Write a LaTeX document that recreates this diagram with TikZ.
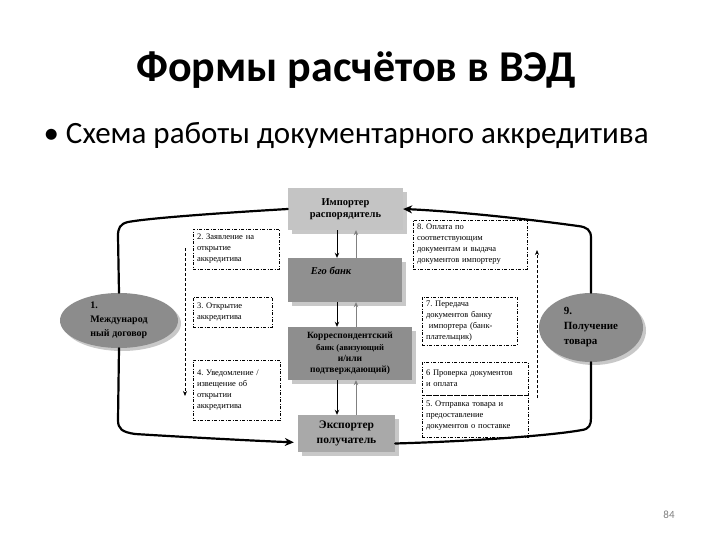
\documentclass[tikz,border=0pt]{standalone}
\usepackage{fontspec}
\setmainfont{Liberation Serif}
\newfontfamily\titlefont{Carlito}
\usetikzlibrary{shapes.geometric,shadows,arrows.meta}
\definecolor{impcol}{HTML}{C4C4C4}
\definecolor{bankcol}{HTML}{909090}
\definecolor{corrcol}{HTML}{8E8E8E}
\definecolor{expcol}{HTML}{A9A9A9}
\definecolor{ellcol}{HTML}{8C8C8C}
\definecolor{shcol}{HTML}{C8C8C8}
\frenchspacing
\begin{document}
\begin{tikzpicture}[x=1pt,y=-1pt,
  solidbox/.style={rectangle, inner sep=2pt, align=center,
    drop shadow={shadow xshift=4pt, shadow yshift=-4pt, fill=shcol, opacity=1},
    font=\bfseries\fontsize{10.5}{12.5}\selectfont},
  ellnode/.style={ellipse, inner sep=0pt, fill=ellcol, align=left,
    drop shadow={shadow xshift=3pt, shadow yshift=-3pt, fill=shcol, opacity=1},
    font=\bfseries\fontsize{10}{14}\selectfont},
  dbox/.style={rectangle, draw=black, line width=0.6pt,
    dash pattern=on 3pt off 1.5pt on 1pt off 1.5pt,
    inner xsep=4pt, inner ysep=2pt, align=left, fill=white,
    font=\fontsize{8.5}{11}\selectfont},
  bigline/.style={line width=2.2pt, line cap=round},
  bigarrow/.style={bigline, -{Stealth[length=9pt,width=8pt]}},
  blkarrow/.style={line width=0.8pt, -{Stealth[length=5pt,width=4.5pt]}},
  grayarrow/.style={line width=0.8pt, draw=gray, -{Stealth[length=5pt,width=4.5pt]}},
  dasharrow/.style={line width=0.7pt, dash pattern=on 3pt off 2pt, -{Stealth[length=5pt,width=4pt]}}
]
\useasboundingbox (0,0) rectangle (720,540);
\fill[white] (0,0) rectangle (720,540);

% titles
\node[font=\titlefont\bfseries\fontsize{44}{50}\selectfont] (title) at (356,70) {Формы расчётов в ВЭД};
\node[anchor=west, font=\titlefont\fontsize{31}{36}\selectfont] (sub) at (40,135) {•\ Схема работы документарного аккредитива};
\node[text=gray, font=\titlefont\fontsize{11}{13}\selectfont] (pg) at (669,515) {84};

% main boxes
\node[solidbox, fill=impcol, minimum width=115pt, minimum height=42pt] (imp) at (345.5,209) {Импортер\\распорядитель};
\node[solidbox, fill=bankcol, minimum width=114pt, minimum height=44pt,
  label={[font=\bfseries\itshape\fontsize{10.5}{12.5}\selectfont, anchor=north, yshift=-6pt, xshift=-14pt]north:Его банк}] (bank) at (345,280) {};
\node[solidbox, fill=corrcol, minimum width=124pt, minimum height=53pt,
  font=\bfseries\fontsize{9.5}{11.3}\selectfont] (corr) at (350,353.5) {Корреспондентский\\{\fontsize{8.5}{11.3}\selectfont банк (авизующий}\\и/или\\подтверждающий)};
\node[solidbox, fill=expcol, minimum width=97pt, minimum height=37pt,
  font=\bfseries\fontsize{11.5}{15}\selectfont] (exp) at (346.5,433.5) {Экспортер\\получатель};

% ellipses
\node[ellnode, minimum width=118pt, minimum height=55pt] (e1) at (119,320.5) {1.\\Международ\\ный договор};
\node[ellnode, minimum width=104pt, minimum height=69pt,
  font=\bfseries\fontsize{11}{15}\selectfont] (e9) at (591,327.5) {9.\\Получение\\товара};

% dashed boxes
\node[dbox, minimum height=40pt, text width=78pt] (b2) at (236,249) {2. Заявление на\\открытие\\аккредитива};
\node[dbox, minimum height=49pt, text width=106pt] (b8) at (470,244.5) {8. Оплата по\\соответствующим\\документам и выдача\\документов импортеру};
\node[dbox, minimum height=30pt, text width=71pt] (b3) at (232.5,312) {3. Открытие\\аккредитива};
\node[dbox, minimum height=60pt, text width=79pt] (b4) at (236.5,390) {4. Уведомление /\\извещение об\\открытии\\аккредитива};
\node[dbox, minimum height=48pt, text width=87pt] (b7) at (469.5,321) {7. Передача\\документов банку\\\ импортера (банк-\\плательщик)};
\node[dbox, minimum height=42pt, text width=98pt] (b5) at (475,416) {5. Отправка товара и\\предоставление\\документов о поставке};
\node[dbox, minimum height=33pt, text width=98pt] (b6) at (475,378.5) {6 Проверка документов\\и оплата};

% vertical arrows between main boxes
\coordinate (ax) at (337,0);
\coordinate (gx) at (356,0);
\draw[blkarrow] (imp.south -| ax) -- (bank.north -| ax);
\draw[grayarrow] (bank.north -| gx) -- (imp.south -| gx);
\draw[blkarrow] (bank.south -| ax) -- (corr.north -| ax);
\draw[grayarrow] (corr.north -| gx) -- (bank.south -| gx);
\draw[blkarrow] (corr.south -| ax) -- (exp.north -| ax);
\draw[grayarrow] (exp.north -| gx) -- (corr.south -| gx);

% dashed arrows
\coordinate (dl1) at (185,248);
\coordinate (dl2) at (185,396);
\draw[dasharrow] (dl1) -- (dl2);
\coordinate (dr1) at (537,398);
\coordinate (dr2) at (537,250);
\draw[dasharrow] (dr1) -- (dr2);

% thick frame lines
\coordinate (tl) at (118,236);
\coordinate (bl) at (118,420);
\coordinate (tr) at (591,238);
\coordinate (br) at (591,418);
\draw[bigline] (imp.west) .. controls (220,213) and (150,218) .. (128,222)
  .. controls (120,224) and (118,228) .. (tl) -- (e1.north);
\draw[bigarrow] (e9.north) -- (tr) .. controls (591,230) and (587,227) .. (578,226)
  .. controls (520,218) and (450,211) .. (imp.east);
\draw[bigarrow, shorten >=4pt] (e1.south) -- (bl) .. controls (118,429) and (122,432) .. (135,434)
  .. controls (200,438) and (260,441) .. ([yshift=-9pt]exp.west);
\draw[bigline] ([yshift=-10pt]exp.east) .. controls (480,441) and (555,435) .. (582,430)
  .. controls (589,429) and (591,425) .. (br) -- (e9.south);
\end{tikzpicture}
\end{document}
